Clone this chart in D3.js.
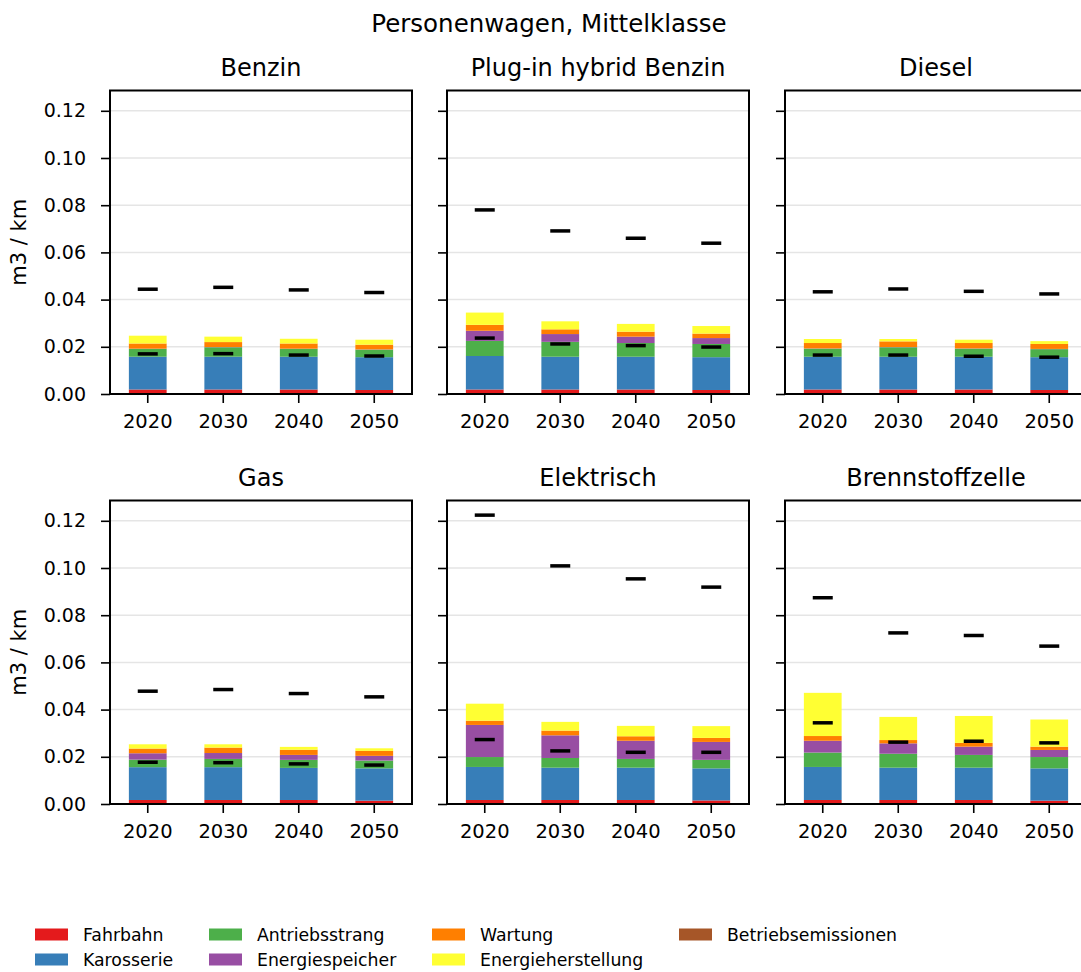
<!DOCTYPE html>
<html>
<head>
<meta charset="utf-8">
<script src="https://cdn.jsdelivr.net/npm/d3@7"></script>
<style>
  body { margin: 0; background: #fff; }
  svg { display: block; font-family: "DejaVu Sans", sans-serif; }
</style>
</head>
<body>
<svg id="chart" width="1081" height="972"></svg>
<script>
// ---------- DATA ----------
const years = ["2020", "2030", "2040", "2050"];
const panels = ["Benzin", "Plug-in hybrid Benzin", "Diesel", "Gas", "Elektrisch", "Brennstoffzelle"];
const components = ["Fahrbahn", "Karosserie", "Antriebsstrang", "Energiespeicher", "Wartung", "Energieherstellung", "Betriebsemissionen"];
const colors = ["#e41a1c", "#377eb8", "#4daf4a", "#984ea3", "#ff7f00", "#ffff33", "#a65628"];
const yTicks = [0.00, 0.02, 0.04, 0.06, 0.08, 0.10, 0.12];

// values per panel (rows) and year (columns), m3 / km
const fahrbahn = [
  [0.0019, 0.0019, 0.0019, 0.0017],
  [0.0019, 0.0019, 0.0019, 0.0017],
  [0.0019, 0.0019, 0.0019, 0.0017],
  [0.0017, 0.0017, 0.0017, 0.0014],
  [0.0017, 0.0017, 0.0017, 0.0015],
  [0.0017, 0.0017, 0.0017, 0.0014]
];
const karosserie = [
  [0.0139, 0.0139, 0.0139, 0.0139],
  [0.0142, 0.0139, 0.0139, 0.0139],
  [0.0139, 0.0139, 0.0139, 0.0139],
  [0.0139, 0.0139, 0.0136, 0.0137],
  [0.0140, 0.0137, 0.0137, 0.0136],
  [0.0140, 0.0137, 0.0137, 0.0137]
];
const antriebsstrang = [
  [0.0033, 0.0040, 0.0033, 0.0032],
  [0.0064, 0.0063, 0.0058, 0.0056],
  [0.0034, 0.0040, 0.0034, 0.0034],
  [0.0032, 0.0035, 0.0034, 0.0033],
  [0.0042, 0.0041, 0.0037, 0.0036],
  [0.0061, 0.0059, 0.0054, 0.0048]
];
const energiespeicher = [
  [0.0001, 0.0001, 0.0001, 0.0001],
  [0.0043, 0.0033, 0.0027, 0.0025],
  [0.0001, 0.0001, 0.0001, 0.0001],
  [0.0027, 0.0025, 0.0021, 0.0020],
  [0.0136, 0.0096, 0.0077, 0.0076],
  [0.0050, 0.0044, 0.0035, 0.0030]
];
const wartung = [
  [0.0022, 0.0021, 0.0022, 0.0020],
  [0.0025, 0.0020, 0.0021, 0.0019],
  [0.0023, 0.0024, 0.0023, 0.0021],
  [0.0020, 0.0023, 0.0022, 0.0021],
  [0.0018, 0.0020, 0.0019, 0.0017],
  [0.0020, 0.0014, 0.0016, 0.0014]
];
const energieherstellung = [
  [0.0033, 0.0023, 0.0020, 0.0021],
  [0.0052, 0.0034, 0.0033, 0.0032],
  [0.0017, 0.0010, 0.0014, 0.0012],
  [0.0018, 0.0014, 0.0012, 0.0011],
  [0.0072, 0.0037, 0.0044, 0.0050],
  [0.0183, 0.0098, 0.0114, 0.0115]
];
const betriebsemissionen = [
  [0, 0, 0, 0],
  [0, 0, 0, 0],
  [0, 0, 0, 0],
  [0, 0, 0, 0],
  [0, 0, 0, 0],
  [0, 0, 0, 0]
];
const markerLow = [
  [0.0170, 0.0171, 0.0165, 0.0161],
  [0.0237, 0.0212, 0.0205, 0.0199],
  [0.0165, 0.0165, 0.0160, 0.0156],
  [0.0177, 0.0175, 0.0170, 0.0165],
  [0.0273, 0.0225, 0.0219, 0.0219],
  [0.0344, 0.0262, 0.0266, 0.0259]
];
const markerHigh = [
  [0.0444, 0.0452, 0.0441, 0.0430],
  [0.0780, 0.0691, 0.0660, 0.0639],
  [0.0433, 0.0445, 0.0435, 0.0424],
  [0.0478, 0.0485, 0.0468, 0.0454],
  [0.1224, 0.1009, 0.0954, 0.0919],
  [0.0874, 0.0725, 0.0714, 0.0669]
];
const componentValues = [fahrbahn, karosserie, antriebsstrang, energiespeicher, wartung, energieherstellung, betriebsemissionen];

// ---------- LAYOUT ----------
const svg = d3.select("#chart");
const W = 302, H = 303.5;
const colX = [110, 447, 785];
const rowY = [90.5, 500.5];
const yMax = 0.1286;

svg.append("text")
  .attr("x", 549).attr("y", 31.5)
  .attr("text-anchor", "middle")
  .attr("font-size", 24.5)
  .text("Personenwagen, Mittelklasse");

const x = d3.scaleBand().domain(years).range([0, W]).paddingInner(0.5).paddingOuter(0.25);
const y = d3.scaleLinear().domain([0, yMax]).range([H, 0]);

panels.forEach((name, p) => {
  const col = p % 3, row = Math.floor(p / 3);
  const g = svg.append("g").attr("transform", `translate(${colX[col]},${rowY[row]})`);

  // grid
  g.append("g").selectAll("line").data(yTicks).join("line")
    .attr("x1", 0).attr("x2", W)
    .attr("y1", d => y(d)).attr("y2", d => y(d))
    .attr("stroke", "#e5e5e5").attr("stroke-width", 1.5);

  // stacked bars
  const rows = years.map((yr, i) => {
    const o = { year: yr };
    components.forEach((c, k) => { o[c] = componentValues[k][p][i]; });
    return o;
  });
  const stack = d3.stack().keys(components)(rows);
  stack.forEach((layer, k) => {
    g.append("g").selectAll("rect").data(layer).join("rect")
      .attr("x", d => x(d.data.year))
      .attr("width", x.bandwidth())
      .attr("y", d => y(d[1]))
      .attr("height", d => Math.max(0, y(d[0]) - y(d[1])))
      .attr("fill", colors[k]);
  });

  // markers
  const mk = [];
  years.forEach((yr, i) => {
    mk.push({ year: yr, v: markerLow[p][i] });
    mk.push({ year: yr, v: markerHigh[p][i] });
  });
  g.append("g").selectAll("line").data(mk).join("line")
    .attr("x1", d => x(d.year) + x.bandwidth() / 2 - 10)
    .attr("x2", d => x(d.year) + x.bandwidth() / 2 + 10)
    .attr("y1", d => y(d.v)).attr("y2", d => y(d.v))
    .attr("stroke", "#000").attr("stroke-width", 3.5);

  // axes
  const yAxis = d3.axisLeft(y).tickValues(yTicks).tickSize(9).tickPadding(15)
    .tickFormat(col === 0 ? d3.format(".2f") : () => "");
  const ya = g.append("g").call(yAxis);
  ya.select(".domain").remove();
  ya.selectAll(".tick line").attr("stroke", "#000").attr("stroke-width", 1.6);
  ya.selectAll(".tick text").attr("font-size", 19).attr("fill", "#000")
    .attr("font-family", "DejaVu Sans");

  const xAxis = d3.axisBottom(x).tickSize(9).tickPadding(6);
  const xa = g.append("g").attr("transform", `translate(0,${H})`).call(xAxis);
  xa.select(".domain").remove();
  xa.selectAll(".tick line").attr("stroke", "#000").attr("stroke-width", 1.6);
  xa.selectAll(".tick text").attr("font-size", 19.5).attr("fill", "#000")
    .attr("font-family", "DejaVu Sans").attr("dy", "0.95em");

  // frame
  g.append("rect").attr("x", 0).attr("y", 0).attr("width", W).attr("height", H)
    .attr("fill", "none").attr("stroke", "#000").attr("stroke-width", 2);

  // title
  g.append("text").attr("x", W / 2).attr("y", -14.5)
    .attr("text-anchor", "middle").attr("font-size", 24)
    .text(name);

  if (col === 0) {
    g.append("text")
      .attr("transform", `translate(${-84},${H / 2}) rotate(-90)`)
      .attr("text-anchor", "middle")
      .attr("font-size", 21)
      .text("m3 / km");
  }
});

// ---------- LEGEND ----------
const legendCols = [35, 209, 432, 679];
const legendRows = [934.5, 959.5];
const legend = svg.append("g");
components.forEach((c, k) => {
  const cx = legendCols[Math.floor(k / 2)];
  const cy = legendRows[k % 2];
  legend.append("rect").attr("x", cx).attr("y", cy - 6).attr("width", 33).attr("height", 12)
    .attr("fill", colors[k]);
  legend.append("text").attr("x", cx + 48).attr("y", cy + 6)
    .attr("font-size", 17.3).text(c);
});
</script>
</body>
</html>
